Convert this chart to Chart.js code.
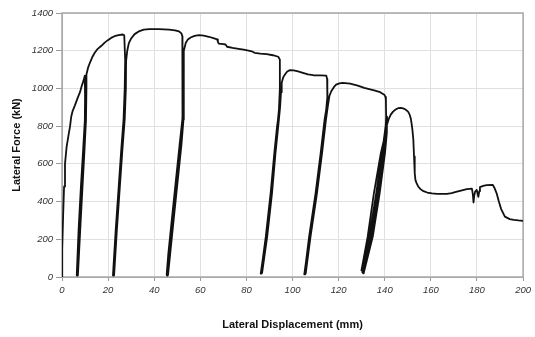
<!DOCTYPE html>
<html>
<head>
<meta charset="utf-8">
<script src="https://cdn.jsdelivr.net/npm/chart.js@4/dist/chart.umd.min.js"></script>
<style>
  html, body { margin: 0; padding: 0; background: #fff; }
  #wrap { position: relative; width: 535px; height: 337px; }
</style>
</head>
<body>
<div id="wrap"><canvas id="chart"></canvas></div>
<script>
// [displacement mm, lateral force kN] for each stage of the pushover with unload cycles
const firstLoading = [
  [0, 0], [0.1, 150], [0.5, 330], [0.9, 480], [1.3, 600], [2.0, 690], [2.8, 750],
  [3.5, 800], [4.0, 850], [4.6, 880], [5.6, 910], [6.8, 950], [7.8, 980],
  [8.6, 1015], [9.3, 1040], [9.9, 1068],
];
const cycle1 = [
  [10.0, 950], [9.9, 830], [9.2, 660], [8.3, 480], [7.3, 250], [6.5, 8],
  [6.8, 8], [7.8, 250], [8.8, 480], [9.6, 660], [10.3, 830], [10.4, 980],
  [10.2, 960], [9.9, 830], [9.1, 660], [8.2, 480], [7.2, 250], [6.4, 10],
  [6.9, 10], [7.9, 250], [8.9, 480], [9.7, 660], [10.4, 830], [10.6, 1000],
];
const secondLoading = [
  [10.6, 1074], [11.3, 1110], [12.1, 1136], [13.1, 1165], [14.2, 1189],
  [15.5, 1210], [17.1, 1226], [18.5, 1243], [19.9, 1256], [21.3, 1268],
  [22.8, 1277], [24.5, 1283], [26.4, 1286], [27.0, 1282],
];
const cycle2 = [
  [27.4, 1150], [27.2, 1000], [26.7, 835], [25.7, 675], [24.6, 480], [23.3, 250], [22.1, 8],
  [22.5, 8], [23.7, 250], [25.0, 480], [26.1, 675], [27.1, 835], [27.6, 1000], [27.8, 1144],
  [27.6, 1120], [27.3, 1000], [26.8, 835], [25.8, 675], [24.7, 480], [23.4, 250], [22.2, 10],
  [22.6, 10], [23.8, 250], [25.1, 480], [26.2, 675], [27.2, 835], [27.7, 1000], [27.8, 1144],
];
const thirdLoading = [
  [28.3, 1200], [29.0, 1240], [30.0, 1265], [31.5, 1288], [33.6, 1304], [35.5, 1312],
  [37.9, 1315], [42.0, 1314], [46.5, 1312], [49.0, 1308], [50.8, 1302], [51.8, 1292],
  [52.2, 1277],
];
const cycle3 = [
  [52.3, 1100], [52.4, 950], [52.1, 800], [51.2, 700], [49.5, 500], [47.8, 300], [46.3, 120], [45.5, 8],
  [45.9, 8], [46.8, 120], [48.3, 300], [50.0, 500], [51.7, 700], [52.6, 835], [52.8, 1000], [52.7, 1150],
  [52.5, 1100], [52.5, 950], [52.2, 835], [51.0, 700], [49.3, 500], [47.6, 300], [46.1, 120], [45.4, 12],
  [46.0, 12], [46.9, 120], [48.4, 300], [50.1, 500], [51.8, 700], [52.7, 835], [52.9, 1000], [52.7, 1150],
];
const fourthLoading = [
  [52.9, 1200], [53.7, 1242], [54.6, 1260], [55.8, 1270], [57.5, 1279], [59.4, 1283],
  [61.5, 1280], [63.7, 1274], [66.0, 1265], [67.3, 1260], [67.6, 1248], [68.0, 1238],
  [70.0, 1235], [70.9, 1233], [71.3, 1227], [71.6, 1221], [74.0, 1215], [76.6, 1210],
  [78.8, 1206], [80.9, 1201], [82.3, 1197], [83.5, 1189], [86.0, 1185], [88.8, 1182],
  [91.5, 1176], [93.8, 1168], [94.5, 1153],
];
const cycle4 = [
  [94.5, 1000], [94.1, 888], [93.4, 800], [92.2, 657], [90.6, 445], [88.5, 214], [86.2, 18],
  [86.6, 18], [88.9, 214], [91.0, 445], [92.5, 657], [93.7, 800], [94.4, 900], [94.8, 1000],
  [94.6, 980], [94.2, 880], [93.3, 800], [92.1, 657], [90.5, 445], [88.4, 214], [86.3, 22],
  [86.8, 22], [89.0, 214], [91.1, 445], [92.6, 657], [93.8, 800], [94.6, 900], [95.0, 980],
];
const fifthLoading = [
  [95.3, 1030], [96.0, 1060], [96.7, 1074], [97.7, 1090], [98.9, 1097], [100.5, 1096],
  [102.4, 1091], [104.5, 1083], [106.7, 1074], [109.0, 1070], [112.0, 1069],
  [114.6, 1068], [115.0, 1050],
];
const cycle5 = [
  [115.1, 960], [114.9, 888], [114.0, 835], [112.3, 657], [110.1, 445], [107.3, 214], [105.1, 14],
  [105.5, 14], [107.7, 214], [110.5, 445], [112.7, 657], [114.4, 835], [115.2, 900], [115.3, 980],
  [115.0, 960], [114.6, 888], [113.9, 835], [112.2, 657], [110.0, 445], [107.2, 214], [105.2, 18],
  [105.7, 18], [107.8, 214], [110.6, 445], [112.8, 657], [114.5, 835], [115.3, 905],
];
const sixthLoading = [
  [116.0, 960], [116.8, 985], [118.0, 1008], [118.9, 1020], [120.3, 1027], [121.8, 1030],
  [125.0, 1025], [128.3, 1015], [131.1, 1003], [135.4, 990], [138.0, 980], [139.8, 967],
  [140.3, 955], [140.5, 941],
];
const cycle6 = [
  [140.6, 850], [140.3, 764], [139.3, 657], [137.0, 445], [133.9, 214], [130.6, 20],
  [130.9, 22], [134.8, 214], [137.8, 445], [140.1, 657], [140.9, 764], [141.0, 850],
  [140.8, 840], [140.0, 764], [138.8, 657], [136.3, 445], [133.3, 214], [130.3, 25],
  [130.7, 25], [134.4, 214], [137.3, 445], [139.7, 657], [140.5, 764],
  [139.9, 740], [138.3, 657], [135.3, 445], [132.6, 214], [129.9, 35],
  [130.4, 35], [133.6, 214], [136.6, 445], [139.1, 657], [140.0, 730],
];
const finalLoading = [
  [140.6, 790], [141.2, 817], [141.8, 840], [142.6, 861], [143.6, 877], [144.7, 888],
  [145.8, 895], [146.9, 897], [148.0, 894], [149.0, 888], [150.1, 877], [150.8, 861],
  [151.3, 840], [151.6, 817], [152.0, 780], [152.4, 728], [152.7, 639], [153.0, 551],
  [153.3, 515], [153.8, 498], [154.5, 480], [155.5, 466], [156.8, 455], [158.4, 448],
  [160.5, 443], [162.7, 441], [167.0, 441], [169.0, 445], [171.3, 453], [173.5, 460],
  [175.6, 466], [177.8, 469], [178.2, 440], [178.5, 395], [178.8, 430], [179.2, 453],
  [179.9, 462], [180.3, 440], [180.6, 425], [181.0, 455], [181.3, 477], [182.7, 483],
  [184.2, 487], [186.8, 489], [187.5, 475], [188.5, 445], [189.5, 400], [190.5, 360],
  [192.1, 320], [194.2, 307], [196.0, 303], [198.0, 300], [200.0, 298],
];

const dispTicks = [0, 20, 40, 60, 80, 100, 120, 140, 160, 180, 200];
const forceTicks = [0, 200, 400, 600, 800, 1000, 1200, 1400];

const response = [].concat(
  firstLoading, cycle1, secondLoading, cycle2, thirdLoading, cycle3,
  fourthLoading, cycle4, fifthLoading, cycle5, sixthLoading, cycle6, finalLoading,
).map(([x, y]) => ({ x, y }));

const FONT = "'Liberation Sans', Arial, sans-serif";

// grey frame around the plot area, under the curve
const plotFrame = {
  id: "plotFrame",
  beforeDatasetsDraw(chart) {
    const { ctx, chartArea: a } = chart;
    ctx.save();
    ctx.strokeStyle = "#a8a8a8";
    ctx.lineWidth = 1.5;
    ctx.strokeRect(a.left, a.top, a.right - a.left, a.bottom - a.top);
    ctx.restore();
  },
};

const tickFont = { family: FONT, size: 9.5, style: "italic" };
const titleFont = { family: FONT, size: 11, weight: "bold" };

new Chart(document.getElementById("chart"), {
  type: "scatter",
  plugins: [plotFrame],
  data: {
    datasets: [
      {
        data: response,
        showLine: true,
        borderColor: "#111",
        borderWidth: 1.8,
        pointRadius: 0,
        tension: 0,
        borderJoinStyle: "round",
      },
    ],
  },
  options: {
    animation: false,
    responsive: true,
    maintainAspectRatio: false,
    layout: { padding: { top: 13, right: 8, left: 0, bottom: 0 } },
    plugins: {
      legend: { display: false },
      tooltip: { enabled: false },
    },
    scales: {
      x: {
        type: "linear",
        min: dispTicks[0],
        max: dispTicks[dispTicks.length - 1],
        afterBuildTicks: (s) => {
          s.ticks = dispTicks.map((value) => ({ value }));
        },
        afterFit: (s) => {
          s.height = 60;
        },
        ticks: {
          font: tickFont,
          color: "#333",
          padding: 4,
          maxRotation: 0,
          callback: (v) => String(v),
        },
        grid: { color: "#e0e0e0", tickLength: 4, tickColor: "#9a9a9a" },
        border: { color: "#a8a8a8" },
        title: {
          display: true,
          text: "Lateral Displacement (mm)",
          font: titleFont,
          color: "#111",
          padding: { top: 0, bottom: 5.4 },
        },
      },
      y: {
        type: "linear",
        min: forceTicks[0],
        max: forceTicks[forceTicks.length - 1],
        afterBuildTicks: (s) => {
          s.ticks = forceTicks.map((value) => ({ value }));
        },
        afterFit: (s) => {
          s.width = 62;
        },
        ticks: {
          font: tickFont,
          color: "#333",
          padding: 3,
          callback: (v) => String(v),
        },
        grid: { color: "#e0e0e0", tickLength: 6, tickColor: "#9a9a9a" },
        border: { color: "#a8a8a8" },
        title: {
          display: true,
          text: "Lateral Force (kN)",
          font: titleFont,
          color: "#111",
          padding: { top: 10.4, bottom: 0 },
        },
      },
    },
  },
});
</script>
</body>
</html>
